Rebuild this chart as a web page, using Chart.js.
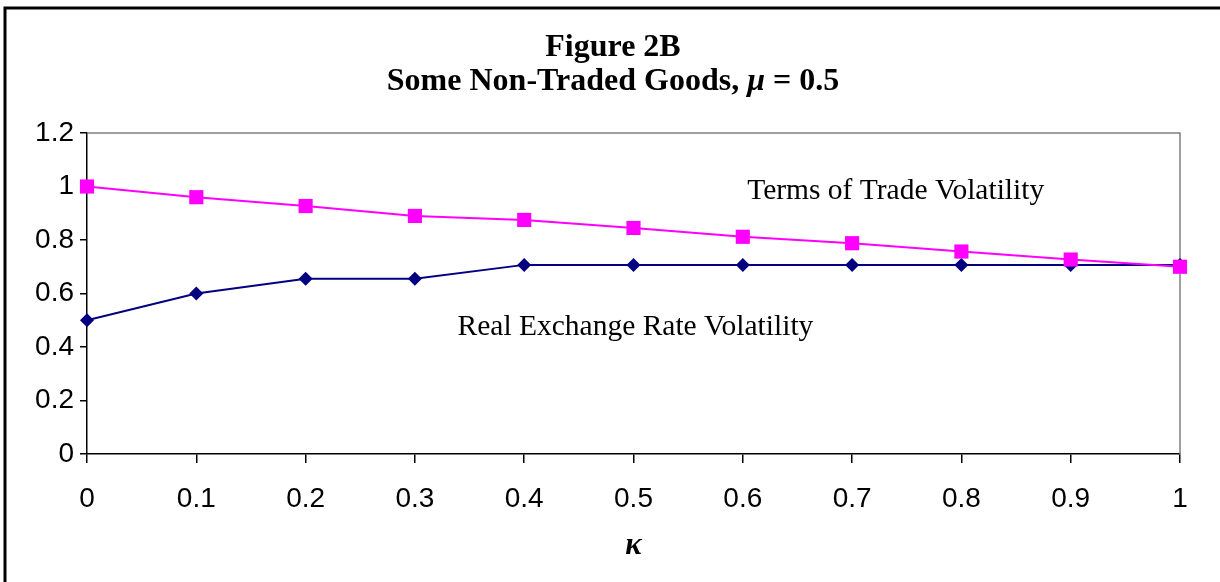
<!DOCTYPE html>
<html>
<head>
<meta charset="utf-8">
<script src="https://cdn.jsdelivr.net/npm/chart.js@4"></script>
<style>
  html, body { margin: 0; padding: 0; background: #fff; }
  #wrap { width: 1220px; height: 582px; position: relative; }
</style>
</head>
<body>
<div id="wrap"><canvas id="fig2b" width="1220" height="582"></canvas></div>
<script>
var kappa = [0, 0.1, 0.2, 0.3, 0.4, 0.5, 0.6, 0.7, 0.8, 0.9, 1];
var tot_vol = [1, 0.96, 0.927, 0.89, 0.875, 0.845, 0.812, 0.788, 0.757, 0.727, 0.70];
var rer_vol = [0.5, 0.6, 0.655, 0.655, 0.707, 0.707, 0.707, 0.707, 0.707, 0.707, 0.707];
var y_ticks = [0, 0.2, 0.4, 0.6, 0.8, 1, 1.2];
var x_ticks = [0, 0.1, 0.2, 0.3, 0.4, 0.5, 0.6, 0.7, 0.8, 0.9, 1];
var series_labels = ['Terms of Trade Volatility', 'Real Exchange Rate Volatility'];
// where each series label sits, in data units
var label_x = [0.604, 0.339];
var label_y = [0.983, 0.475];

var serif = '"Liberation Serif", "Times New Roman", serif';
var sans = '"Liberation Sans", Arial, sans-serif';

function toPoints(xs, ys){
    var pts = [];
    for (var i = 0; i < xs.length; i++) pts.push({x: xs[i], y: ys[i]});
    return pts;
}

// frame, title, plot border, series labels and axis symbol
var decorations = {
    id: 'decorations',
    beforeDraw: function(chart){
        var ctx = chart.ctx;
        ctx.save();
        ctx.fillStyle = '#fff';
        ctx.fillRect(0, 0, chart.width, chart.height);
        ctx.restore();
    },
    beforeDatasetsDraw: function(chart){
        var ctx = chart.ctx;
        var a = chart.chartArea;
        ctx.save();
        // gray top / right border of plot area
        ctx.strokeStyle = '#808080';
        ctx.lineWidth = 1.5;
        ctx.beginPath();
        ctx.moveTo(a.left, a.top);
        ctx.lineTo(a.right, a.top);
        ctx.lineTo(a.right, a.bottom);
        ctx.stroke();
        ctx.restore();
    },
    afterDatasetsDraw: function(chart){
        var ctx = chart.ctx;
        var a = chart.chartArea;
        var xs = chart.scales.x, ys = chart.scales.y;
        ctx.save();
        // outer frame (top + left)
        ctx.strokeStyle = '#000';
        ctx.lineWidth = 3;
        ctx.beginPath();
        ctx.moveTo(5, chart.height);
        ctx.lineTo(5, 8);
        ctx.lineTo(chart.width, 8);
        ctx.stroke();

        // title
        ctx.fillStyle = '#000';
        ctx.textBaseline = 'middle';
        ctx.textAlign = 'center';
        var cx = 613;
        ctx.font = 'bold 32px ' + serif;
        ctx.fillText('Figure 2B', cx, 48);
        var p1 = 'Some Non-Traded Goods, ';
        var p2 = '\u03bc';
        var p3 = ' = 0.5';
        var f1 = 'bold 32px ' + serif;
        var f2 = 'bold italic 32px ' + serif;
        ctx.font = f1;
        var w1 = ctx.measureText(p1).width, w3 = ctx.measureText(p3).width;
        ctx.font = f2;
        var w2 = ctx.measureText(p2).width;
        var x0 = cx - (w1 + w2 + w3) / 2;
        ctx.textAlign = 'left';
        ctx.font = f1; ctx.fillText(p1, x0, 82);
        ctx.font = f2; ctx.fillText(p2, x0 + w1, 82);
        ctx.font = f1; ctx.fillText(p3, x0 + w1 + w2, 82);

        // series labels
        ctx.font = '29.5px ' + serif;
        for (var i = 0; i < series_labels.length; i++){
            ctx.fillText(series_labels[i], xs.getPixelForValue(label_x[i]), ys.getPixelForValue(label_y[i]));
        }

        // x axis symbol
        ctx.textAlign = 'center';
        ctx.font = 'bold italic 31px ' + serif;
        ctx.fillText('\u03ba', (a.left + a.right) / 2, 546);
        ctx.restore();
    }
};

var ctx = document.getElementById('fig2b').getContext('2d');
var chart1 = new Chart(ctx, {
    type: 'line',
    data: {
        datasets: [{
            label: series_labels[0],
            data: toPoints(kappa, tot_vol),
            borderColor: '#ff00ff',
            backgroundColor: '#ff00ff',
            borderWidth: 2,
            pointStyle: 'rect',
            pointRadius: 10,
            pointBorderWidth: 0,
            clip: false,
            tension: 0
        }, {
            label: series_labels[1],
            data: toPoints(kappa, rer_vol),
            borderColor: '#000080',
            backgroundColor: '#000080',
            borderWidth: 2,
            pointStyle: 'rectRot',
            pointRadius: 7,
            pointBorderWidth: 0,
            clip: false,
            tension: 0
        }]
    },
    options: {
        responsive: false,
        animation: false,
        layout: { padding: { left: 0, right: 40, top: 133, bottom: 0 } },
        plugins: {
            legend: { display: false },
            title: { display: false },
            tooltip: { enabled: false }
        },
        scales: {
            x: {
                type: 'linear',
                min: 0, max: 1,
                afterBuildTicks: function(scale){
                    scale.ticks = x_ticks.map(function(v){ return {value: v}; });
                },
                afterFit: function(scale){ scale.height = 128; },
                grid: { drawOnChartArea: false, drawTicks: true, tickLength: 9, color: '#000', lineWidth: 1.5 },
                border: { color: '#000', width: 1.5 },
                ticks: {
                    color: '#000',
                    font: { family: sans, size: 28 },
                    padding: 19,
                    maxRotation: 0,
                    callback: function(v){ return String(Math.round(v * 10) / 10); }
                }
            },
            y: {
                min: 0, max: 1.2,
                afterBuildTicks: function(scale){
                    scale.ticks = y_ticks.map(function(v){ return {value: v}; });
                },
                afterFit: function(scale){ scale.width = 87; },
                grid: { drawOnChartArea: false, drawTicks: true, tickLength: 7, color: '#000', lineWidth: 1.5 },
                border: { color: '#000', width: 1.5 },
                ticks: {
                    color: '#000',
                    font: { family: sans, size: 28 },
                    padding: 6,
                    callback: function(v){ return String(Math.round(v * 10) / 10); }
                }
            }
        }
    },
    plugins: [decorations]
});
</script>
</body>
</html>
